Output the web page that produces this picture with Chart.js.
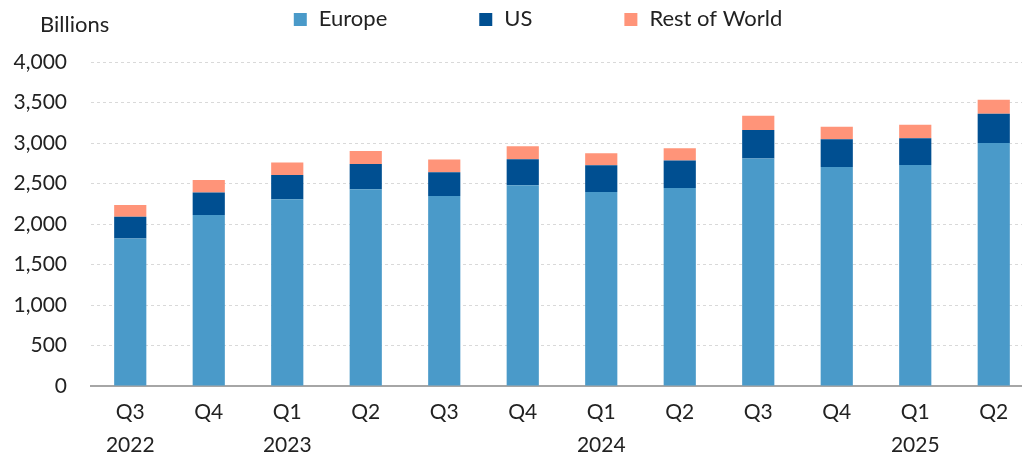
<!DOCTYPE html>
<html>
<head>
<meta charset="utf-8">
<script src="https://cdn.jsdelivr.net/npm/chart.js@4"></script>
<style>
  html, body { margin: 0; padding: 0; background: #fff; }
  /* plot runs a little past the right edge, as in the original */
  #wrap { width: 1022px; height: 476px; overflow: hidden; }
</style>
</head>
<body>
<div id="wrap"><canvas id="fundsChart" width="1033" height="476"></canvas></div>
<script>
// quarter labels (second line = year)
const quarters = ['Q3', 'Q4', 'Q1', 'Q2', 'Q3', 'Q4', 'Q1', 'Q2', 'Q3', 'Q4', 'Q1', 'Q2'];
const years    = ['2022', '', '2023', '', '', '', '2024', '', '', '', '2025', ''];

// values in billions
const europe      = [1820, 2110, 2305, 2430, 2345, 2480, 2395, 2445, 2810, 2705, 2730, 3000];
const us          = [270, 280, 300, 310, 295, 320, 330, 340, 350, 340, 330, 360];
const restOfWorld = [145, 155, 155, 160, 155, 160, 150, 150, 175, 155, 165, 175];

const labels = quarters.map((q, i) => [q, years[i]]);
const fontFamily = 'Lato, "Open Sans", sans-serif';

// "Billions" unit label + legend drawn by hand (Excel-style spacing)
const headerPlugin = {
  id: 'header',
  afterDraw(chart) {
    const ctx = chart.ctx;
    ctx.save();
    ctx.fillStyle = '#222';
    ctx.textBaseline = 'middle';
    ctx.textAlign = 'left';
    ctx.font = '22px ' + fontFamily;
    ctx.fillText('Billions', 40, 25);

    const items = chart.data.datasets.map(ds => ({
      text: ds.label,
      color: ds.backgroundColor,
      w: 13 + 12 + ctx.measureText(ds.label).width
    }));
    const gap = 92;
    const total = items.reduce((s, it) => s + it.w, 0) + gap * (items.length - 1);
    let x = 538 - total / 2;
    items.forEach(it => {
      ctx.fillStyle = it.color;
      ctx.fillRect(x, 13, 13, 13);
      ctx.fillStyle = '#222';
      ctx.fillText(it.text, x + 25, 19);
      x += it.w + gap;
    });
    ctx.restore();
  }
};

new Chart(document.getElementById('fundsChart'), {
  type: 'bar',
  data: {
    labels: labels,
    datasets: [
      { label: 'Europe', data: europe, backgroundColor: '#4a9ac9' },
      { label: 'US', data: us, backgroundColor: '#004f91' },
      { label: 'Rest of World', data: restOfWorld, backgroundColor: '#ff9479' }
    ]
  },
  options: {
    responsive: false,
    animation: false,
    devicePixelRatio: 1,
    datasets: {
      bar: {
        categoryPercentage: 1,
        barPercentage: 0.41,
        borderWidth: 0
      }
    },
    layout: {
      padding: { left: 0, right: 0, top: 62, bottom: 4 }
    },
    scales: {
      x: {
        stacked: true,
        grid: { display: false, drawTicks: false },
        border: { display: true, color: '#a6a6a6', width: 2 },
        ticks: {
          color: '#222',
          padding: 10,
          maxRotation: 0,
          autoSkip: false,
          font: { family: fontFamily, size: 21, lineHeight: 1.57 }
        }
      },
      y: {
        stacked: true,
        min: 0,
        max: 4000,
        afterFit: scale => { scale.width = 91; },
        grid: { color: '#d9d9d9', drawTicks: false, lineWidth: 1 },
        border: { display: false, dash: [3, 3] },
        ticks: {
          stepSize: 500,
          color: '#222',
          padding: 24,
          font: { family: fontFamily, size: 21 },
          callback: v => v.toLocaleString('en-US')
        }
      }
    },
    plugins: {
      legend: { display: false },
      tooltip: { enabled: false }
    }
  },
  plugins: [headerPlugin]
});
</script>
</body>
</html>
